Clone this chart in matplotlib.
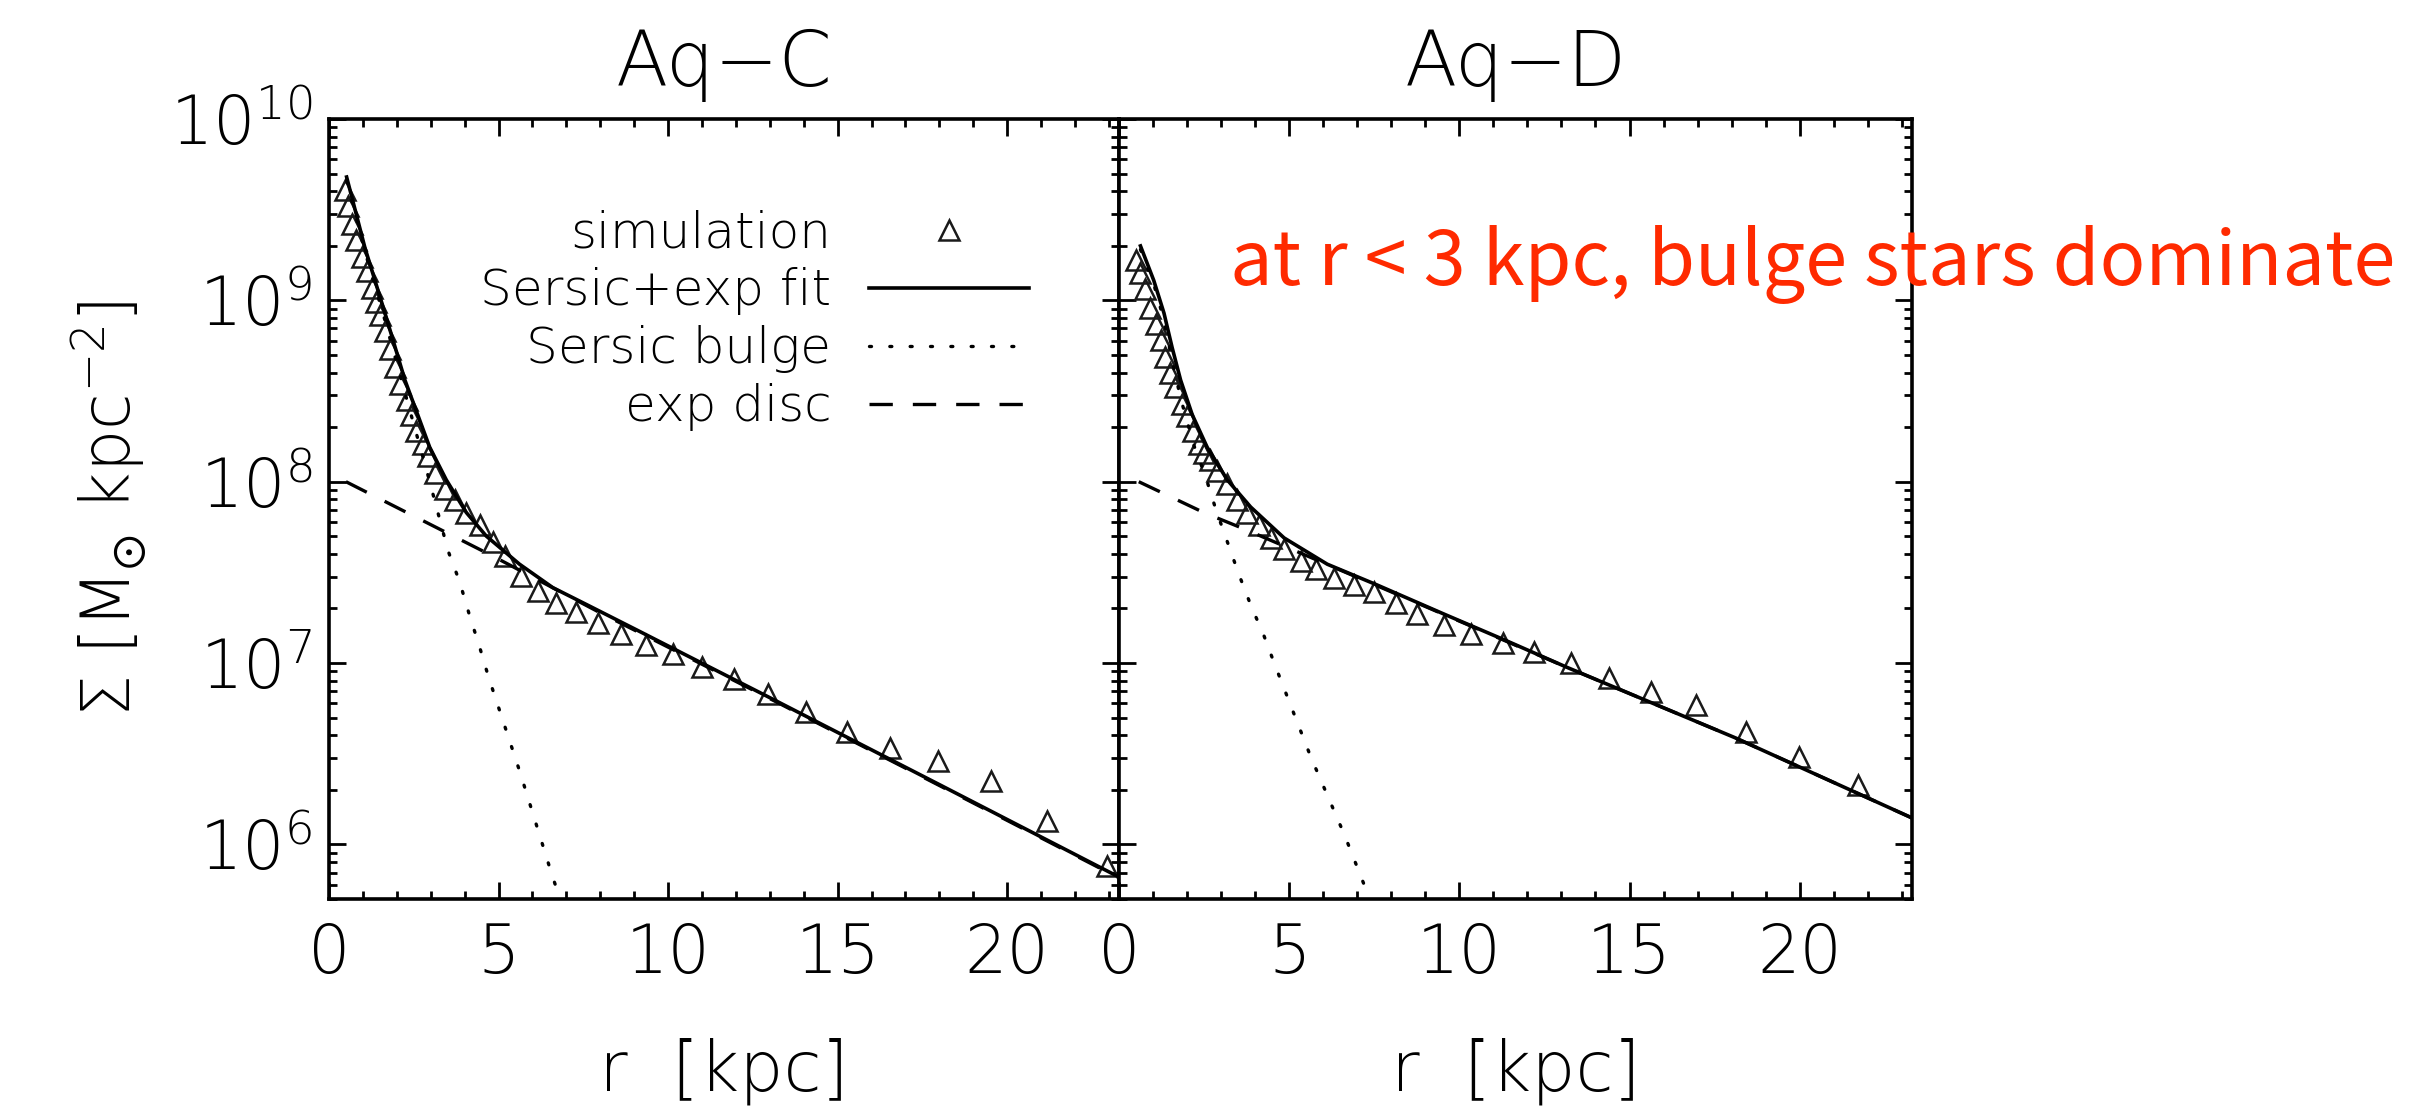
import numpy as np
import matplotlib
matplotlib.use("Agg")
import matplotlib.pyplot as plt

plt.rcParams['font.family'] = ['DejaVu Sans']
plt.rcParams['font.weight'] = 'light'
plt.rcParams['mathtext.fontset'] = 'dejavusans'

# ---- Aq-C (left panel): r [kpc] and log10 Sigma
r_sim_c = [0.47, 0.57, 0.67, 0.81, 0.96, 1.11, 1.26, 1.40, 1.50, 1.65, 1.79, 1.94,
           2.09, 2.29, 2.43, 2.58, 2.78, 2.92, 3.12, 3.41, 3.71, 4.05, 4.44, 4.83,
           5.20, 5.67, 6.16, 6.70, 7.28, 7.92, 8.62, 9.34, 10.14, 11.00, 11.93,
           12.94, 14.06, 15.28, 16.54, 17.96, 19.51, 21.18, 22.94]
lg_sim_c = [9.61, 9.52, 9.42, 9.33, 9.24, 9.16, 9.07, 8.99, 8.92, 8.83, 8.73, 8.63,
            8.54, 8.45, 8.37, 8.28, 8.21, 8.14, 8.05, 7.96, 7.90, 7.83, 7.76, 7.67,
            7.59, 7.48, 7.40, 7.33, 7.28, 7.22, 7.16, 7.10, 7.05, 6.98, 6.91,
            6.83, 6.73, 6.62, 6.53, 6.46, 6.35, 6.13, 5.88]

r_fit_c = [0.52, 1.06, 1.65, 2.24, 2.97, 3.46, 4.05, 4.64, 5.62, 6.60, 7.58, 9.05,
           10.52, 12.94, 18.0, 23.3]
lg_fit_c = [9.68, 9.29, 8.93, 8.56, 8.19, 8.01, 7.83, 7.70, 7.545, 7.416, 7.324, 7.185,
            7.045, 6.815, 6.33, 5.82]

r_bulge_c = [0.52, 1.06, 1.65, 2.24, 2.87, 3.51, 3.85, 4.15, 4.44, 4.71, 5.63, 6.53, 6.95]
lg_bulge_c = [9.66, 9.27, 8.89, 8.49, 8.07, 7.62, 7.45, 7.26, 7.09, 6.92, 6.40, 5.86, 5.62]

r_disc_c = [0.5, 4.83, 7.97, 12.94, 18.0, 23.3]
lg_disc_c = [8.0, 7.59, 7.28, 6.81, 6.325, 5.815]

# ---- Aq-D (right panel)
r_sim_d = [0.50, 0.62, 0.76, 0.92, 1.08, 1.22, 1.34, 1.50, 1.64, 1.84, 1.99, 2.17,
           2.35, 2.50, 2.66, 2.89, 3.18, 3.48, 3.77, 4.11, 4.46, 4.85, 5.34, 5.78,
           6.32, 6.91, 7.49, 8.13, 8.77, 9.55, 10.34, 11.27, 12.20, 13.28, 14.41,
           15.63, 16.96, 18.43, 19.99, 21.71]
lg_sim_d = [9.22, 9.15, 9.06, 8.96, 8.87, 8.78, 8.69, 8.60, 8.52, 8.43, 8.36, 8.28,
            8.21, 8.16, 8.12, 8.06, 7.99, 7.90, 7.83, 7.76, 7.69, 7.63, 7.56, 7.52,
            7.47, 7.43, 7.39, 7.33, 7.27, 7.21, 7.16, 7.11, 7.06, 7.00, 6.92,
            6.84, 6.77, 6.62, 6.48, 6.33]

r_fit_d = [0.63, 1.02, 1.32, 1.56, 1.81, 2.15, 2.59, 3.18, 3.87, 4.85, 6.12, 7.59,
           9.55, 11.42, 13.18, 18.08, 23.3]
lg_fit_d = [9.30, 9.11, 8.93, 8.74, 8.56, 8.37, 8.19, 8.01, 7.86, 7.69, 7.545, 7.43,
            7.27, 7.12, 6.975, 6.59, 6.146]

r_bulge_d = [0.63, 1.02, 1.32, 1.56, 1.81, 2.20, 2.54, 2.84, 3.18, 3.52, 3.87, 4.26,
             4.60, 5.64, 6.63, 7.45]
lg_bulge_d = [9.28, 9.09, 8.89, 8.67, 8.46, 8.20, 8.03, 7.85, 7.67, 7.49, 7.32, 7.15,
              6.98, 6.48, 6.05, 5.66]

r_disc_d = [0.58, 2.49, 3.67, 8.28, 13.18, 18.08, 23.3]
lg_disc_d = [8.0, 7.83, 7.74, 7.37, 6.975, 6.59, 6.146]

titles = ['Aq\u2212C', 'Aq\u2212D']
note = 'at r < 3 kpc, bulge stars dominate'

fig = plt.figure(figsize=(24.19, 11.15), dpi=100)
ax1 = fig.add_axes([0.1360, 0.1937, 0.3266, 0.6996])
ax2 = fig.add_axes([0.4626, 0.1937, 0.3278, 0.6996])

panels = [
    (ax1, r_sim_c, lg_sim_c, r_fit_c, lg_fit_c, r_bulge_c, lg_bulge_c, r_disc_c, lg_disc_c),
    (ax2, r_sim_d, lg_sim_d, r_fit_d, lg_fit_d, r_bulge_d, lg_bulge_d, r_disc_d, lg_disc_d),
]

for i, (ax, rs, ls, rf, lf, rb, lb, rd, ld) in enumerate(panels):
    ax.plot(rs, np.power(10.0, ls), linestyle='none', marker='^', ms=15, mfc='none',
            mec='#1a1a1a', mew=1.8, label='simulation')
    ax.plot(rf, np.power(10.0, lf), color='black', lw=2.6, label='Sersic+exp fit')
    ax.plot(rb, np.power(10.0, lb), color='black', lw=2.4, linestyle=(0, (0.6, 5.5)),
            dash_capstyle='round', label='Sersic bulge')
    ax.plot(rd, np.power(10.0, ld), color='black', lw=2.4, linestyle=(0, (7, 6)),
            label='exp disc')

    ax.set_yscale('log')
    ax.set_xlim(0, 23.3)
    ax.set_ylim(5e5, 1e10)
    ax.set_xticks([0, 5, 10, 15, 20])
    ax.set_xticks(np.arange(1, 24), minor=True)
    ax.set_yticks([1e6, 1e7, 1e8, 1e9, 1e10])
    ax.tick_params(which='both', direction='in', top=True, right=True, width=2.0,
                   labelsize=48, colors='black')
    ax.tick_params(which='major', length=12)
    ax.tick_params(which='minor', length=6)
    ax.tick_params(axis='x', pad=16)
    ax.tick_params(axis='y', pad=12)
    for sp in ax.spines.values():
        sp.set_linewidth(2.6)
    ax.set_title(titles[i], fontsize=55, pad=24, fontweight='light')
    ax.set_xlabel('r  [kpc]', fontsize=50, labelpad=36, fontweight='light')

ax2.tick_params(axis='y', which='both', labelleft=False)
ax1.set_ylabel(r'$\Sigma\ [\mathrm{M}_{\odot}\ \mathrm{kpc}^{-2}]$', fontsize=48, labelpad=16)

leg = ax1.legend(loc='upper right', bbox_to_anchor=(0.886, 0.884), frameon=False,
                 markerfirst=False, numpoints=1, fontsize=36, handlelength=3.2,
                 handletextpad=0.75, labelspacing=0.2, borderpad=0, borderaxespad=0)

fig.text(0.5085, 0.7444, note, color='#ff2a00', fontsize=54.5, va='baseline', ha='left',
         family=['Noto Sans CJK JP', 'DejaVu Sans'], fontweight='normal')

fig.savefig('out.png', dpi=100)
